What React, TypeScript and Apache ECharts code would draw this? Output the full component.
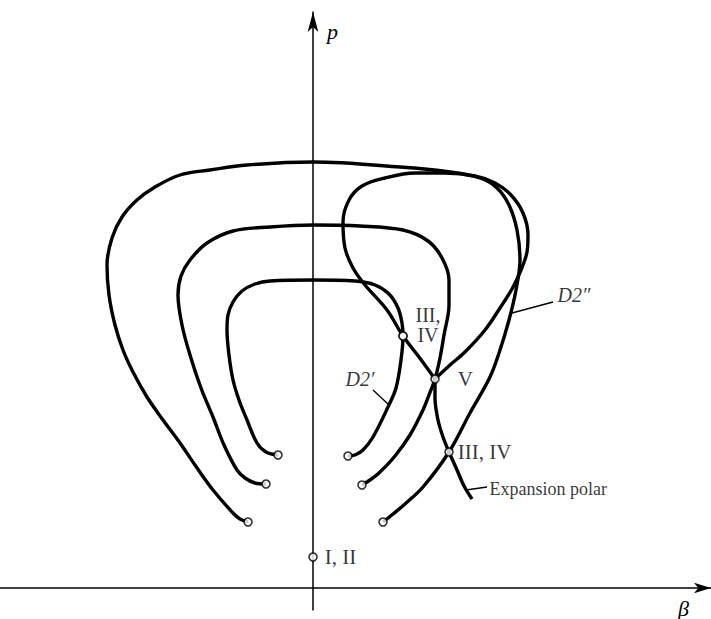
import React, { useEffect, useRef } from "react";
import * as echarts from "echarts";

// Axis extents (β horizontal, p vertical)
const betaRange = [-31.3, 39.8];
const pRange = [-2.2, 57.6];

// Three incident shock polars (horseshoes)
const innerPolar: number[][] = [
  [-3.5, 13.3], [-4.7, 13.6], [-5.6, 14.5], [-6.6, 16.8], [-7.4, 18.8], [-8.0, 20.8],
  [-8.4, 23.3], [-8.6, 25.8], [-8.5, 27.3], [-8.0, 28.6], [-7.1, 29.7], [-5.8, 30.4],
  [-4.3, 30.7], [0, 30.8], [4.2, 30.7], [6.2, 30.3], [7.6, 29.4], [8.5, 28.0],
  [8.9, 26.5], [9.0, 25.2], [8.8, 22.8], [8.3, 20.0], [7.5, 18.1], [6.0, 15.1],
  [5.0, 13.8], [4.2, 13.3], [3.5, 13.2],
];

const middlePolar: number[][] = [
  [-4.7, 10.4], [-5.8, 10.5], [-6.8, 11.0], [-7.6, 11.8], [-8.9, 14.3], [-10.0, 17.1],
  [-11.2, 20.0], [-12.3, 23.3], [-13.1, 26.3], [-13.5, 29.3], [-13.2, 31.2], [-12.3, 32.8],
  [-10.6, 34.5], [-8.0, 35.7], [-4.3, 36.1], [0, 36.3], [4.7, 36.2], [9.0, 35.8],
  [11.5, 34.7], [12.9, 33.0], [13.6, 30.8], [13.6, 28.3], [13.1, 25.3], [12.7, 23.0],
  [12.2, 20.9], [11.6, 19.3], [11.0, 17.8], [9.7, 15.3], [8.2, 13.2], [6.7, 11.6],
  [5.7, 10.8], [4.9, 10.3],
];

const outerPolar: number[][] = [
  [-6.5, 6.6], [-7.3, 6.9], [-8.0, 7.5], [-10.0, 9.8], [-11.8, 12.3], [-13.3, 14.5],
  [-15.0, 16.8], [-16.6, 19.1], [-18.0, 21.6], [-19.0, 23.8], [-19.8, 26.3], [-20.4, 29.3],
  [-20.6, 32.3], [-20.1, 35.0], [-19.1, 37.1], [-17.6, 38.8], [-15.8, 40.1], [-13.3, 41.3],
  [-10.3, 41.8], [-6.6, 42.3], [0, 42.6], [8.7, 42.1], [13.7, 41.6], [16.7, 41.0],
  [18.4, 40.0], [19.6, 38.3], [20.4, 35.8], [20.7, 32.8], [20.3, 29.8], [19.6, 26.8],
  [18.7, 23.8], [17.7, 21.1], [15.7, 17.5], [13.6, 13.6], [11.0, 10.1], [9.2, 8.4],
  [8.0, 7.4], [7.0, 6.6],
];

// Reflected-shock polar D2'' (closed loop with its cusp at V)
const polarD2pp: number[][] = [
  [12.2, 20.9], [13.7, 22.3], [15.2, 23.6], [17.2, 25.8], [18.7, 28.0], [19.9, 29.9],
  [20.8, 31.8], [21.4, 33.6], [21.5, 35.3], [21.0, 37.5], [19.8, 39.3], [18.2, 40.5],
  [16.2, 41.2], [13.2, 41.5], [10.2, 41.5], [7.2, 41.0], [4.9, 40.2], [3.6, 38.8],
  [3.0, 36.6], [3.2, 34.0], [4.0, 32.0], [5.2, 30.3], [7.4, 27.8], [9.0, 25.2],
  [10.6, 23.1], [12.2, 20.9],
];

// Expansion polar from V downward
const expansionPolar: number[][] = [
  [12.2, 20.9], [12.2, 19.0], [12.5, 16.8], [13.0, 15.1], [13.6, 13.6], [14.4, 11.8],
  [15.1, 10.2], [15.9, 8.9],
];

// Open end points of the horseshoes
const endPoints: number[][] = [
  [-3.5, 13.3], [3.5, 13.2], [-4.7, 10.4], [4.9, 10.3], [-6.5, 6.6], [7.0, 6.6],
];

// Labelled flow states
const stateNames = ["I, II", "III,", "IV", "V", "III, IV"];
const statePoints: number[][] = [[0, 3.1], [9.0, 25.2], [9.0, 25.2], [12.2, 20.9], [13.6, 13.6]];

// Leader lines for curve names
const leaderD2p: number[][] = [[6.0, 19.8], [7.5, 18.4]];
const leaderD2pp: number[][] = [[19.9, 27.5], [24.0, 28.6]];
const leaderExpansion: number[][] = [[15.3, 9.8], [17.4, 10.1]];
const curveNames = ["D2\u2032", "D2\u2033", "Expansion polar"];

export default function App() {
  const ref = useRef<HTMLDivElement>(null);

  useEffect(() => {
    if (!ref.current) return;
    const chart = echarts.init(ref.current, null, { renderer: "svg" });
    const serif = "'Liberation Serif', 'Times New Roman', 'DejaVu Serif', serif";
    const black = "#000";

    const curve = (name: string, data: number[][]) => ({
      type: "line",
      name,
      data,
      smooth: 0.35,
      symbol: "none",
      silent: true,
      z: 2,
      lineStyle: { color: black, width: 3.4 },
    });

    const leader = (name: string, data: number[][]) => ({
      type: "line",
      name,
      data,
      symbol: "none",
      silent: true,
      z: 2,
      lineStyle: { color: black, width: 1.3 },
    });

    const numeralStyle = {
      color: black,
      fontFamily: serif,
      fontSize: 21,
    };

    const stateLayouts: any[] = [
      { position: "right", distance: 7 },
      { position: "inside", offset: [25, -21], align: "center", verticalAlign: "middle", fontSize: 20, lineHeight: 19 },
      { position: "inside", offset: [25, -1], align: "center", verticalAlign: "middle", fontSize: 20, lineHeight: 19 },
      { position: "right", distance: 18 },
      { position: "right", distance: 4 },
    ];

    const stateData = statePoints.map((pt, i) => ({
      value: pt,
      label: {
        show: true,
        formatter: stateNames[i],
        ...numeralStyle,
        ...stateLayouts[i],
      },
    }));

    const nameAnchors = [
      {
        value: leaderD2p[0],
        label: {
          show: true, formatter: curveNames[0], position: "inside", offset: [-13, -11],
          align: "center", verticalAlign: "middle", color: black, fontFamily: serif,
          fontSize: 20, fontStyle: "italic",
        },
      },
      {
        value: leaderD2pp[1],
        label: {
          show: true, formatter: curveNames[1], position: "right", distance: 4,
          offset: [0, -7], color: black, fontFamily: serif, fontSize: 20, fontStyle: "italic",
        },
      },
      {
        value: leaderExpansion[1],
        label: {
          show: true, formatter: curveNames[2], position: "right", distance: 2,
          offset: [0, 2], color: black, fontFamily: serif, fontSize: 18,
        },
      },
    ];

    const option: any = {
      animation: false,
      backgroundColor: "#fff",
      grid: { left: 0, right: 0, top: 12, bottom: 9, containLabel: false },
      xAxis: {
        type: "value",
        min: betaRange[0],
        max: betaRange[1],
        name: "\u03b2",
        nameLocation: "end",
        nameGap: -33,
        nameTextStyle: {
          color: black, fontFamily: serif, fontSize: 22, fontStyle: "italic",
          align: "left", verticalAlign: "top", padding: [9, 0, 0, 0],
        },
        axisLine: {
          show: true, onZero: true, symbol: ["none", "arrow"], symbolSize: [8, 17],
          lineStyle: { color: black, width: 1.5 },
        },
        axisTick: { show: false },
        axisLabel: { show: false },
        splitLine: { show: false },
      },
      yAxis: {
        type: "value",
        min: pRange[0],
        max: pRange[1],
        name: "p",
        nameLocation: "end",
        nameGap: -30,
        nameTextStyle: {
          color: black, fontFamily: serif, fontSize: 22, fontStyle: "italic",
          align: "left", verticalAlign: "bottom", padding: [0, 0, 0, 14],
        },
        axisLine: {
          show: true, onZero: true, symbol: ["none", "arrow"], symbolSize: [8, 20],
          lineStyle: { color: black, width: 1.5 },
        },
        axisTick: { show: false },
        axisLabel: { show: false },
        splitLine: { show: false },
      },
      series: [
        curve("inner polar", innerPolar),
        curve("middle polar", middlePolar),
        curve("outer polar", outerPolar),
        curve("D2'' polar", polarD2pp),
        curve("expansion polar", expansionPolar),
        leader("D2' leader", leaderD2p),
        leader("D2'' leader", leaderD2pp),
        leader("expansion leader", leaderExpansion),
        {
          type: "scatter",
          name: "end points",
          data: endPoints,
          symbol: "circle",
          symbolSize: 8,
          silent: true,
          z: 5,
          itemStyle: { color: "#fff", borderColor: black, borderWidth: 1.6 },
        },
        {
          type: "scatter",
          name: "states",
          data: stateData,
          symbol: "circle",
          symbolSize: 8,
          silent: true,
          z: 5,
          itemStyle: { color: "#fff", borderColor: black, borderWidth: 1.6 },
        },
        {
          type: "scatter",
          name: "curve names",
          data: nameAnchors,
          symbol: "circle",
          symbolSize: 1,
          silent: true,
          z: 4,
          itemStyle: { color: "rgba(0,0,0,0)" },
        },
      ],
    };

    chart.setOption(option);
    return () => chart.dispose();
  }, []);

  return (
    <div
      ref={ref}
      style={{ position: "fixed", left: 0, top: 0, width: 711, height: 619, background: "#fff" }}
    />
  );
}
